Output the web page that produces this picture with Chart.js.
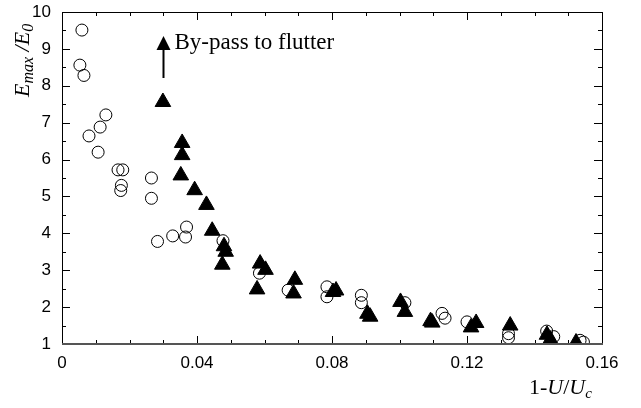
<!DOCTYPE html>
<html>
<head>
<meta charset="utf-8">
<script src="https://cdn.jsdelivr.net/npm/chart.js@4"></script>
<style>
  html, body { margin: 0; padding: 0; background: #fff; }
  #wrap { width: 641px; height: 408px; position: relative; }
</style>
</head>
<body>
<div id="wrap"><canvas id="chart"></canvas></div>
<script>
// open circles
const circleX = [0.0059, 0.0053, 0.0065, 0.0080, 0.0107, 0.0113, 0.0130, 0.0166, 0.0180, 0.0176,
                 0.0174, 0.0265, 0.0265, 0.0283, 0.0328, 0.0366, 0.0369, 0.0477, 0.0585, 0.0670,
                 0.0785, 0.0785, 0.0887, 0.0887, 0.1016, 0.1126, 0.1135, 0.1200, 0.1323, 0.1323,
                 0.1436, 0.1457, 0.1535, 0.1545];
const circleY = [9.51, 8.56, 8.28, 6.64, 6.20, 6.88, 7.21, 5.72, 5.72, 5.30,
                 5.16, 5.50, 4.95, 3.78, 3.93, 3.90, 4.17, 3.80, 2.92, 2.46,
                 2.55, 2.28, 2.32, 2.12, 2.12, 1.83, 1.70, 1.60, 1.17, 1.28,
                 1.35, 1.20, 1.10, 1.05];

// filled triangles
const triX = [0.0299, 0.0356, 0.0356, 0.0352, 0.0393, 0.0428, 0.0445, 0.0480, 0.0485, 0.0475,
              0.0587, 0.0603, 0.0578, 0.0690, 0.0686, 0.0803, 0.0812, 0.0905, 0.0913, 0.1003,
              0.1016, 0.1092, 0.1097, 0.1212, 0.1227, 0.1328, 0.1437, 0.1447, 0.1523];
const triY = [7.56, 6.45, 6.12, 5.57, 5.17, 4.77, 4.07, 3.65, 3.50, 3.15,
              3.18, 3.01, 2.48, 2.74, 2.37, 2.41, 2.45, 1.82, 1.74, 2.14,
              1.87, 1.62, 1.58, 1.45, 1.57, 1.50, 1.25, 1.12, 1.04];

const xTicks = [0, 0.04, 0.08, 0.12, 0.16];
const yTicks = [1, 2, 3, 4, 5, 6, 7, 8, 9, 10];

// annotation arrow (data coords)
const arrowX = 0.0299;
const arrowFrom = 8.21;
const arrowTo = 9.0;
const noteText = "By-pass to flutter";

const toPoints = (xs, ys) => xs.map((x, i) => ({ x: x, y: ys[i] }));

const serif = '"Liberation Serif", "Times New Roman", serif';
const sans = '"Liberation Sans", Arial, sans-serif';

// frame, inward ticks, titles and the note
const decor = {
  id: 'decor',
  afterDraw(chart) {
    const ctx = chart.ctx;
    const a = chart.chartArea;
    const xs = chart.scales.x, ys = chart.scales.y;
    ctx.save();
    ctx.strokeStyle = '#000';
    ctx.lineWidth = 1;
    ctx.beginPath();
    ctx.moveTo(a.left + 0.5, a.top + 0.5);
    ctx.lineTo(a.right + 0.5, a.top + 0.5);
    ctx.lineTo(a.right + 0.5, a.bottom);
    ctx.moveTo(a.left + 0.5, a.top);
    ctx.lineTo(a.left + 0.5, a.bottom);
    // x ticks every 0.01
    for (let i = 0; i <= 16; i++) {
      const px = Math.round(xs.getPixelForValue(i / 100)) + 0.5;
      const len = i % 4 === 0 ? 8 : 4;
      ctx.moveTo(px, a.bottom); ctx.lineTo(px, a.bottom - len);
      ctx.moveTo(px, a.top); ctx.lineTo(px, a.top + len);
    }
    // y ticks every 0.5
    for (let i = 2; i <= 20; i++) {
      const py = Math.round(ys.getPixelForValue(i / 2)) + 0.5;
      const len = i % 2 === 0 ? 8 : 4;
      ctx.moveTo(a.left, py); ctx.lineTo(a.left + len, py);
      ctx.moveTo(a.right, py); ctx.lineTo(a.right - len, py);
    }
    ctx.stroke();
    // bottom axis line
    ctx.strokeStyle = '#555';
    ctx.lineWidth = 2;
    ctx.beginPath();
    ctx.moveTo(a.left, a.bottom);
    ctx.lineTo(a.right + 1, a.bottom);
    ctx.stroke();

    // arrow
    const ax = Math.round(xs.getPixelForValue(arrowX)) + 0.5;
    const y0 = ys.getPixelForValue(arrowFrom);
    const y1 = ys.getPixelForValue(arrowTo);
    ctx.strokeStyle = '#000';
    ctx.lineWidth = 2;
    ctx.beginPath();
    ctx.moveTo(ax, y0); ctx.lineTo(ax, y1);
    ctx.stroke();
    ctx.fillStyle = '#000';
    ctx.beginPath();
    ctx.moveTo(ax, y1 - 13);
    ctx.lineTo(ax - 7, y1 + 1);
    ctx.lineTo(ax + 7, y1 + 1);
    ctx.closePath();
    ctx.fill();

    // note text
    ctx.font = '23px ' + serif;
    ctx.textBaseline = 'alphabetic';
    ctx.textAlign = 'left';
    ctx.fillText(noteText, ax + 11, y1 - 0);

    // x title: 1-U/Uc
    let tx = 529, ty = 394;
    const parts = [
      ['1-', 'normal 22px ', 0],
      ['U', 'italic 22px ', 0],
      ['/', 'normal 22px ', 0],
      ['U', 'italic 22px ', 0],
      ['c', 'italic 15px ', 4]
    ];
    parts.forEach(([t, f, dy]) => {
      ctx.font = f + serif;
      ctx.fillText(t, tx, ty + dy);
      tx += ctx.measureText(t).width;
    });

    // y title: Emax /E0, rotated
    ctx.translate(29, 97);
    ctx.rotate(-Math.PI / 2);
    let ry = 0;
    const yparts = [
      ['E', 'italic 22px ', 0],
      ['max', 'italic 16px ', 4],
      [' /', 'italic 22px ', 0],
      ['E', 'italic 22px ', 0],
      ['0', 'italic 16px ', 4]
    ];
    yparts.forEach(([t, f, dy]) => {
      ctx.font = f + serif;
      ctx.fillText(t, ry, dy);
      ry += ctx.measureText(t).width;
    });
    ctx.restore();
  }
};

new Chart(document.getElementById('chart'), {
  type: 'scatter',
  data: {
    datasets: [
      {
        label: 'circles',
        data: toPoints(circleX, circleY),
        pointStyle: 'circle',
        pointRadius: 6,
        pointHoverRadius: 6,
        backgroundColor: 'rgba(255,255,255,0)',
        borderColor: '#000',
        borderWidth: 1,
        order: 2
      },
      {
        label: 'triangles',
        data: toPoints(triX, triY),
        pointStyle: 'triangle',
        pointRadius: 9,
        pointHoverRadius: 9,
        backgroundColor: '#000',
        borderColor: '#000',
        borderWidth: 1,
        order: 1
      }
    ]
  },
  options: {
    responsive: true,
    maintainAspectRatio: false,
    animation: false,
    layout: { padding: { left: 0, right: 39, top: 12, bottom: 0 } },
    plugins: { legend: { display: false }, tooltip: { enabled: false } },
    scales: {
      x: {
        type: 'linear',
        min: 0,
        max: 0.16,
        afterFit: s => { s.height = 64; s.paddingLeft = 0; s.paddingRight = 0; },
        afterBuildTicks: s => { s.ticks = xTicks.map(v => ({ value: v })); },
        grid: { display: false, drawTicks: false },
        border: { display: false },
        ticks: {
          color: '#000',
          padding: 9,
          maxRotation: 0,
          font: { family: sans, size: 17 },
          callback: v => String(v)
        }
      },
      y: {
        type: 'linear',
        min: 1,
        max: 10,
        afterFit: s => { s.width = 62; s.paddingTop = 0; s.paddingBottom = 0; },
        afterBuildTicks: s => { s.ticks = yTicks.map(v => ({ value: v })); },
        grid: { display: false, drawTicks: false },
        border: { display: false },
        ticks: {
          color: '#000',
          padding: 11,
          font: { family: sans, size: 17 }
        }
      }
    }
  },
  plugins: [decor]
});
</script>
</body>
</html>
